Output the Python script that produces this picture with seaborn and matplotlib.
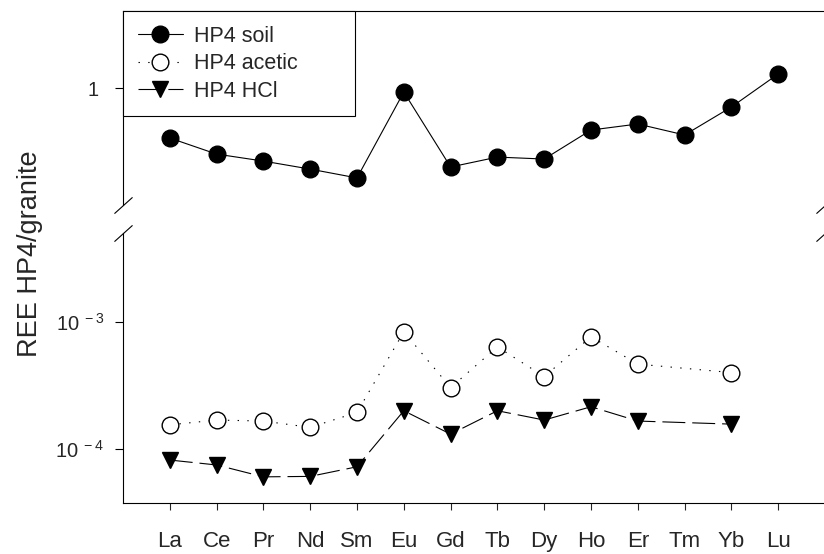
import numpy as np
import pandas as pd
import matplotlib
matplotlib.use("Agg")
import matplotlib.pyplot as plt
from matplotlib.ticker import FixedLocator, FixedFormatter, NullLocator
import seaborn as sns

# ---- data ----
elements = ["La", "Ce", "Pr", "Nd", "Sm", "Eu", "Gd", "Tb", "Dy", "Ho", "Er", "Tm", "Yb", "Lu"]
soil = [0.404, 0.302, 0.266, 0.230, 0.196, 0.93, 0.239, 0.286, 0.276, 0.467, 0.521, 0.427, 0.709, 1.29]
acetic = [1.55e-4, 1.69e-4, 1.66e-4, 1.48e-4, 1.94e-4, 8.34e-4, 3.04e-4, 6.35e-4, 3.71e-4,
          7.62e-4, 4.65e-4, np.nan, 3.99e-4, np.nan]
hcl = [8.2e-5, 7.5e-5, 6.05e-5, 6.1e-5, 7.26e-5, 2.0e-4, 1.31e-4, 2.0e-4, 1.69e-4,
       2.15e-4, 1.66e-4, np.nan, 1.57e-4, np.nan]
series_labels = ["HP4 soil", "HP4 acetic", "HP4 HCl"]
ylabel = "REE HP4/granite"
top_ticks = [1.0]
top_ticklabels = ["1"]
bot_ticks = [1e-4, 1e-3]
bot_ticklabels = [r"$\mathregular{10^{\ -4}}$", r"$\mathregular{10^{\ -3}}$"]

# ---- style ----
sns.set_style("ticks")
plt.rcParams["font.family"] = ["Liberation Sans", "DejaVu Sans"]
plt.rcParams["mathtext.fontset"] = "custom"
plt.rcParams["mathtext.rm"] = "Liberation Sans"
plt.rcParams["mathtext.it"] = "Liberation Sans:italic"
plt.rcParams["mathtext.bf"] = "Liberation Sans:bold"
plt.rcParams["lines.scale_dashes"] = False

pos = np.arange(len(elements))
df = pd.DataFrame({"pos": pos, "element": elements, "soil": soil, "acetic": acetic, "hcl": hcl})

fig = plt.figure(figsize=(8.24, 5.54), dpi=100)
W, H = 824.0, 554.0
left = 123 / W
width = (825 - 123) / W
ax_top = fig.add_axes([left, 1 - 205 / H, width, (205 - 11) / H])
ax_bot = fig.add_axes([left, 1 - 503 / H, width, (503 - 233) / H])

common = dict(color="black", linewidth=0.8, markersize=12, markeredgecolor="black",
              markeredgewidth=1.0, legend=False, estimator=None)

d = df.dropna(subset=["soil"])
sns.lineplot(data=d, x="pos", y="soil", ax=ax_top, marker="o", markerfacecolor="black",
             linestyle="-", label=series_labels[0], **common)
d = df.dropna(subset=["acetic"])
sns.lineplot(data=d, x="pos", y="acetic", ax=ax_bot, marker="o", markerfacecolor="white",
             linestyle=(0, (1.0, 6.0)), label=series_labels[1], **common)
d = df.dropna(subset=["hcl"])
sns.lineplot(data=d, x="pos", y="hcl", ax=ax_bot, marker="v", markerfacecolor="black",
             linestyle=(0, (16.5, 5.0)), label=series_labels[2], **common)

for ax in (ax_top, ax_bot):
    ax.set_yscale("log")
    ax.set_xlim(-1, len(elements))
    ax.set_xlabel("")
    ax.set_ylabel("")
    ax.yaxis.set_minor_locator(NullLocator())
    ax.tick_params(axis="y", which="major", direction="out", length=5.5, width=0.8,
                   labelsize=14.5, pad=10, color="black")
    ax.patch.set_alpha(0)

ax_top.set_ylim(0.12, 4.04)
ax_bot.set_ylim(3.77e-5, 4.98e-3)

ax_top.yaxis.set_major_locator(FixedLocator(top_ticks))
ax_top.yaxis.set_major_formatter(FixedFormatter(top_ticklabels))
ax_top.tick_params(axis="y", pad=12)
ax_bot.yaxis.set_major_locator(FixedLocator(bot_ticks))
ax_bot.yaxis.set_major_formatter(FixedFormatter(bot_ticklabels))
ax_bot.tick_params(axis="y", pad=8)

ax_top.set_xticks([])
ax_top.spines["bottom"].set_visible(False)
ax_top.spines["right"].set_visible(False)
ax_bot.spines["top"].set_visible(False)
ax_bot.spines["right"].set_visible(False)
for ax in (ax_top, ax_bot):
    for s in ax.spines.values():
        s.set_linewidth(0.8)
        s.set_color("black")

ax_bot.set_xticks(pos)
ax_bot.set_xticklabels(elements)
ax_bot.tick_params(axis="x", direction="out", length=5, width=0.8, labelsize=16, pad=15)

# break marks
brk = dict(marker=[(-1, -0.9), (1, 0.9)], markersize=13, linestyle="none",
           color="black", mec="black", mew=0.8, clip_on=False)
ax_top.plot([0, 1], [0, 0], transform=ax_top.transAxes, **brk)
ax_bot.plot([0, 1], [1, 1], transform=ax_bot.transAxes, **brk)

# legend
h1, l1 = ax_top.get_legend_handles_labels()
h2, l2 = ax_bot.get_legend_handles_labels()
leg = ax_top.legend(h1 + h2, l1 + l2, loc="upper left", bbox_to_anchor=(0, 0, (354 - 122) / 702, 1),
                    mode="expand", borderaxespad=0, fontsize=15.5, frameon=True, fancybox=False,
                    edgecolor="black", framealpha=1, numpoints=1, handlelength=2.1,
                    handletextpad=0.5, labelspacing=0.3, borderpad=0.68)
leg.get_frame().set_linewidth(0.8)

fig.text(30 / W, 1 - 254 / H, ylabel, rotation=90, fontsize=19.5, ha="center", va="center")

fig.savefig("out.png", dpi=100)
